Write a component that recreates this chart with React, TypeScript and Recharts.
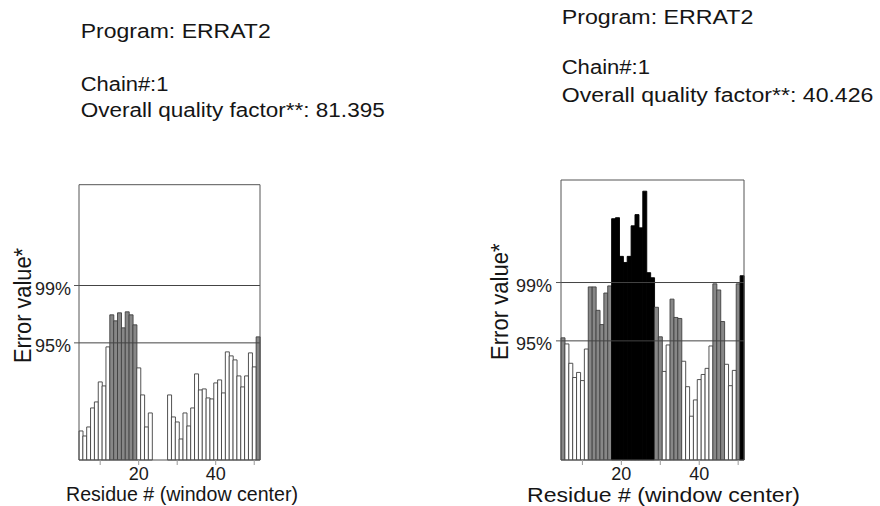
import { BarChart, Bar, XAxis, YAxis, ReferenceLine, Cell } from "recharts";

// window centre residues (ERRAT window of 9, so the first centre is 5)
const residues = [
  5, 6, 7, 8, 9, 10, 11, 12, 13, 14, 15, 16, 17, 18, 19, 20, 21, 22, 23, 24, 25, 26, 27, 28,
  29, 30, 31, 32, 33, 34, 35, 36, 37, 38, 39, 40, 41, 42, 43, 44, 45, 46, 47, 48, 49, 50, 51,
];

// chain 1, quality 81.395 (no windows at 24-27)
const leftErrors = [
  2.9, 2.4, 3.3, 5.2, 5.8, 7.8, 7.4, 11.3, 14.5, 13.9, 14.7, 13.2, 14.8, 14.5, 13.5, 9.2,
  6.5, 3.3, 4.7, null, null, null, null, 6.5, 4.3, 3.8, 2.1, 4.7, 3.4, 5.2, 8.6, 7.0, 7.1,
  6.2, 6.1, 7.7, 8.0, 6.7, 10.8, 10.4, 10.0, 8.4, 7.3, 8.4, 10.7, 9.3, 12.3,
];

// chain 1, quality 40.426
const rightErrors = [
  12.0, 11.4, 9.5, 8.1, 8.6, 7.8, 10.9, 17.0, 17.0, 14.7, 13.3, 16.4, 17.1, 23.7, 23.8, 20.0,
  19.4, 20.0, 23.0, 24.1, 22.8, 26.4, 18.4, 17.9, 15.0, 12.1, 8.7, 11.3, 15.8, 14.0, 13.9,
  9.7, 7.2, 4.3, 5.9, 7.9, 8.4, 9.0, 11.2, 17.3, 16.7, 13.6, 9.4, 7.3, 8.8, 17.3, 18.1,
];

const xTicks = [10, 20, 30, 40, 50];
const LIMIT_95 = 11.7;
const LIMIT_99 = 17.43;
const yTicks = [LIMIT_95, LIMIT_99];
const yTickLabels = ["95%", "99%"];
const Y_MAX = 27.5;

const FONT = "'Liberation Sans', Arial, Helvetica, sans-serif";

const barFill = (v: number) => (v > LIMIT_99 ? "#000000" : v > LIMIT_95 ? "#878787" : "#ffffff");
const barStroke = (v: number) => (v > LIMIT_99 ? "#000000" : "#404040");

const YTick = ({ x, y, payload }: any) => {
  const i = yTicks.indexOf(payload.value);
  return (
    <text x={x} y={y + 3} dy="0.35em" textAnchor="end" fontSize={18} fill="#222" style={{ fontFamily: FONT }}>
      {yTickLabels[i]}
    </text>
  );
};

interface PlotProps {
  errors: (number | null)[];
  left: number;
  top: number;
  width: number;
  height: number;
  marginTop: number;
  marginRight: number;
  yWidth: number;
  yTickMargin: number;
}

const ErrPlot = ({ errors, left, top, width, height, marginTop, marginRight, yWidth, yTickMargin }: PlotProps) => {
  const data = residues.map((r, i) => ({ residue: r, err: errors[i] }));
  return (
    <div style={{ position: "absolute", left, top }}>
      <BarChart
        width={width}
        height={height}
        data={data}
        margin={{ top: marginTop - 1, right: marginRight - 1, left: 0, bottom: 0 }}
        barCategoryGap={0}
        barGap={0}
      >
        <XAxis
          xAxisId="b"
          dataKey="residue"
          type="category"
          ticks={xTicks}
          interval={0}
          tickFormatter={(v: number) => (v % 20 === 0 ? String(v) : "")}
          tickSize={5}
          tickMargin={2}
          height={46}
          stroke="#555"
          tickLine={{ stroke: "#999" }}
          tick={{ fontSize: 18, fill: "#1a1a1a", fontFamily: FONT }}
        />
        <XAxis xAxisId="t" orientation="top" dataKey="residue" type="category" tick={false} tickLine={false} height={1} stroke="#555" />
        <YAxis
          yAxisId="l"
          type="number"
          domain={[0, Y_MAX]}
          ticks={yTicks}
          tick={<YTick />}
          tickSize={5}
          tickMargin={yTickMargin}
          width={yWidth}
          stroke="#555"
        />
        <YAxis yAxisId="r" orientation="right" type="number" domain={[0, Y_MAX]} tick={false} tickLine={false} width={1} stroke="#555" />
        <ReferenceLine xAxisId="b" yAxisId="l" y={LIMIT_95} stroke="#444" />
        <ReferenceLine xAxisId="b" yAxisId="l" y={LIMIT_99} stroke="#444" />
        <Bar xAxisId="b" yAxisId="l" dataKey="err" isAnimationActive={false} strokeWidth={0.9}>
          {data.map((d, i) => (
            <Cell key={i} fill={d.err == null ? "none" : barFill(d.err)} stroke={d.err == null ? "none" : barStroke(d.err)} />
          ))}
        </Bar>
      </BarChart>
    </div>
  );
};

const T = ({ x, y, w, size = 20, children }: any) => (
  <text x={x} y={y} fontSize={size} fill="#151515" textLength={w} lengthAdjust="spacingAndGlyphs">
    {children}
  </text>
);

const App = () => {
  return (
    <div
      style={{ position: "absolute", left: 0, top: 0, width: 880, height: 506, background: "#fff", overflow: "hidden", fontFamily: FONT }}
    >
      <ErrPlot errors={leftErrors} left={0} top={170} width={275} height={336} marginTop={14.7} marginRight={15} yWidth={79} yTickMargin={3} />
      <ErrPlot errors={rightErrors} left={480} top={165} width={280} height={341} marginTop={15} marginRight={16} yWidth={81} yTickMargin={4} />
      <svg width={880} height={506} style={{ position: "absolute", left: 0, top: 0, pointerEvents: "none", fontFamily: FONT }}>
        <T x={80.7} y={38.3} w={190}>Program: ERRAT2</T>
        <T x={80.7} y={90.7} w={87.7}>Chain#:1</T>
        <T x={80.7} y={117.3} w={304}>Overall quality factor**: 81.395</T>
        <T x={561.7} y={24} w={191.7}>Program: ERRAT2</T>
        <T x={561.7} y={74.3} w={88.3}>Chain#:1</T>
        <T x={561.7} y={101.7} w={311.7}>Overall quality factor**: 40.426</T>

        <g transform="translate(30.7,305.5) rotate(-90)">
          <text x={0} y={0} textAnchor="middle" fontSize={23} fill="#151515" textLength={115} lengthAdjust="spacingAndGlyphs">
            Error value*
          </text>
        </g>
        <g transform="translate(508.3,301.7) rotate(-90)">
          <text x={0} y={0} textAnchor="middle" fontSize={23} fill="#151515" textLength={116.7} lengthAdjust="spacingAndGlyphs">
            Error value*
          </text>
        </g>

        <text x={182} y={501} textAnchor="middle" fontSize={20} fill="#151515" textLength={232} lengthAdjust="spacingAndGlyphs">
          Residue # (window center)
        </text>
        <text x={663.5} y={501.5} textAnchor="middle" fontSize={21} fill="#151515" textLength={273} lengthAdjust="spacingAndGlyphs">
          Residue # (window center)
        </text>
      </svg>
    </div>
  );
};

export default App;
